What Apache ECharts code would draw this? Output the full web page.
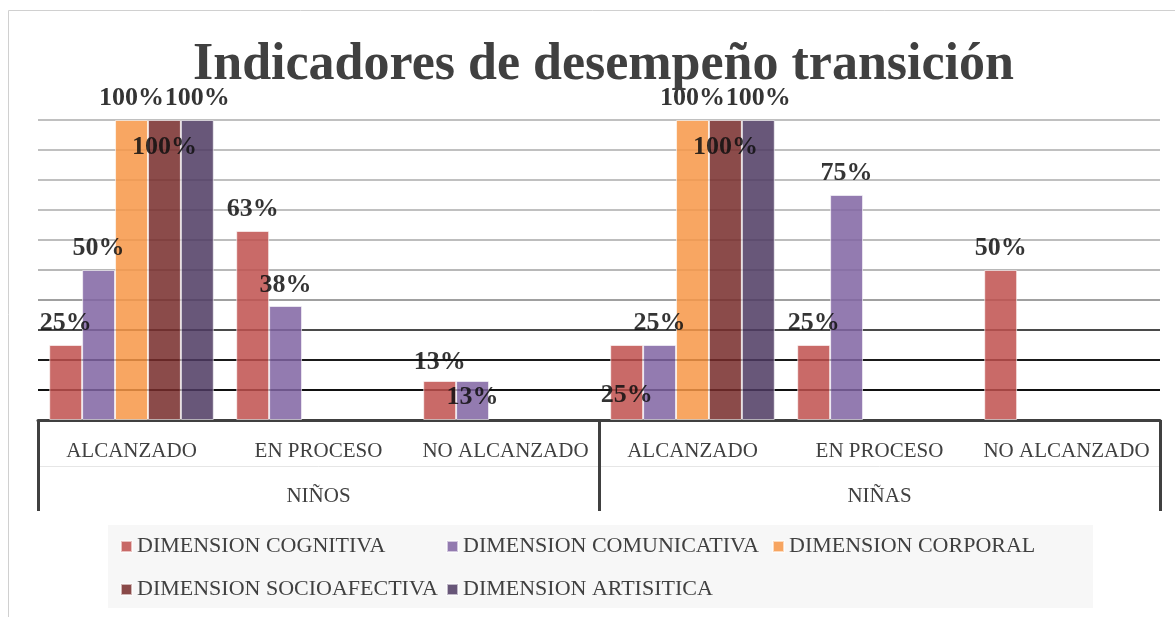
<!DOCTYPE html>
<html>
<head>
<meta charset="utf-8">
<script src="https://cdn.jsdelivr.net/npm/echarts@6/dist/echarts.min.js"></script>
<style>
html,body{margin:0;padding:0;background:#fff;}
#chart{width:1175px;height:617px;}
</style>
</head>
<body>
<div id="chart"></div>
<script>
const titleText = 'Indicadores de desempeño transición';
const categories = ['ALCANZADO', 'EN PROCESO', 'NO ALCANZADO', 'ALCANZADO', 'EN PROCESO', 'NO ALCANZADO'];
const groups = ['NIÑOS', 'NIÑAS'];
const seriesNames = ['DIMENSION COGNITIVA', 'DIMENSION COMUNICATIVA', 'DIMENSION CORPORAL', 'DIMENSION SOCIOAFECTIVA', 'DIMENSION ARTISITICA'];
const cognitiva = [25, 63, 13, 25, 25, 50];
const comunicativa = [50, 38, 13, 25, 75, 0];
const corporal = [100, 0, 0, 100, 0, 0];
const socioafectiva = [100, 0, 0, 100, 0, 0];
const artistica = [100, 0, 0, 100, 0, 0];
const yTicks = [0, 10, 20, 30, 40, 50, 60, 70, 80, 90, 100];

const seriesValues = [cognitiva, comunicativa, corporal, socioafectiva, artistica];
const colors = ['#C0504D', '#8064A2', '#F79646', '#772C2A', '#4D3A62'];
const serifFont = '"Liberation Serif", "DejaVu Serif", serif';

// label placement overrides (styling, keyed by series-dataIndex)
const labelOverrides = {
  '3-0': {position: 'insideTop', distance: 14},
  '3-3': {position: 'insideTop', distance: 14},
  '1-2': {position: 'insideTop', distance: 3},
  '0-3': {position: 'insideBottom', distance: 12},
  '0-2': {position: 'top', distance: 6},
  '1-1': {position: 'top', distance: 8}
};

const chart = echarts.init(document.getElementById('chart'), null, {renderer: 'canvas'});

const series = seriesValues.map((vals, si) => ({
  name: seriesNames[si],
  type: 'bar',
  xAxisIndex: 0,
  barGap: '0%',
  barCategoryGap: '12%',
  itemStyle: {color: colors[si], opacity: 0.85, borderColor: 'rgba(255,255,255,0.7)', borderWidth: 1},
  label: {
    show: true, position: 'top', distance: 9,
    formatter: '{c}%',
    fontFamily: serifFont, fontWeight: 'bold', fontSize: 26, color: '#111'
  },
  data: vals.map((v, di) => {
    if (v === 0) return '-';
    const o = labelOverrides[si + '-' + di];
    return o ? {value: v, label: o} : v;
  })
}));

chart.setOption({
  animation: false,
  title: {
    text: titleText, left: 188, top: 35,
    textStyle: {fontFamily: serifFont, fontWeight: 'bold', fontSize: 52, color: '#404040'}
  },
  graphic: [{
    type: 'rect', shape: {x: 8.5, y: 10.5, width: 1200, height: 700},
    style: {fill: 'none', stroke: '#d0d0d0', lineWidth: 1}, silent: true, z: -10
  }],
  legend: {
    data: seriesNames,
    left: 108, top: 525,
    width: 975,
    backgroundColor: '#f7f7f7',
    padding: [4, 3, 1, 12],
    itemGap: 8,
    itemWidth: 11, itemHeight: 11,
    icon: 'rect',
    textStyle: {fontFamily: serifFont, fontSize: 22, color: '#404040', width: 301, lineHeight: 35}
  },
  grid: {left: 38, right: 15, top: 120, bottom: 197, containLabel: false},
  xAxis: [
    {
      type: 'category', data: categories, position: 'bottom',
      axisLine: {show: true, lineStyle: {color: '#404040', width: 3}},
      axisTick: {show: false},
      axisLabel: {fontFamily: serifFont, fontSize: 21, color: '#404040', margin: 21, interval: 0}
    },
    {
      type: 'category', data: groups, position: 'bottom', offset: 0,
      axisLine: {show: false},
      axisTick: {show: true, length: 91, lineStyle: {color: '#404040', width: 3}},
      axisLabel: {fontFamily: serifFont, fontSize: 21, color: '#404040', margin: 66}
    },
    {
      type: 'category', data: groups, position: 'bottom', offset: 46,
      axisLine: {show: true, lineStyle: {color: '#e6e6e6', width: 1}},
      axisTick: {show: false}, axisLabel: {show: false}
    }
  ],
  yAxis: {
    type: 'value', min: yTicks[0], max: yTicks[yTicks.length - 1], interval: yTicks[1] - yTicks[0],
    axisLabel: {show: false}, axisLine: {show: false}, axisTick: {show: false},
    splitLine: {show: true, lineStyle: {width: 2, color: ['#404040', '#111111', '#1a1a1a', '#4a4a4a', '#a0a0a0', '#b8b8b8', '#bdbdbd', '#c0c0c0', '#c0c0c0', '#c0c0c0', '#c0c0c0']}}
  },
  series: series
});
</script>
</body>
</html>
